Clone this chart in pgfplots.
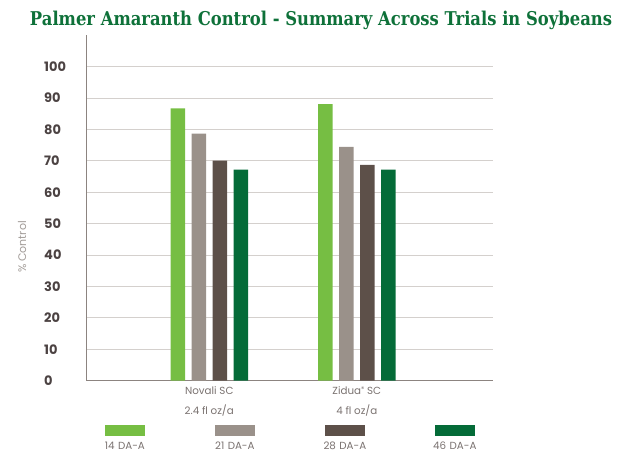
\documentclass[border=0pt]{standalone}
\usepackage{pgfplots}
\pgfplotsset{compat=1.18}
\usepackage{fontspec}
\setmainfont{Poppins}
\newfontfamily\titlefont{DejaVu Serif}
\definecolor{titlegreen}{HTML}{0E7139}
\definecolor{cA}{HTML}{76BE43}
\definecolor{cB}{HTML}{9A918A}
\definecolor{cC}{HTML}{5D5049}
\definecolor{cD}{HTML}{046B38}
\definecolor{tickcol}{HTML}{4B4242}
\definecolor{labcol}{HTML}{7A7270}
\definecolor{ylabcol}{HTML}{A29C98}
\definecolor{gridcol}{HTML}{D4D0CD}
\definecolor{axcol}{HTML}{8C8480}
\begin{document}
\begin{tikzpicture}
\path[use as bounding box] (0,0) rectangle (632pt,464pt);
\node[anchor=base, inner sep=0pt, text=titlegreen] at (321pt,438pt)
  {\resizebox{582pt}{\height}{\titlefont\bfseries\fontsize{19}{19}\selectfont Palmer Amaranth Control - Summary Across Trials in Soybeans}};
\begin{axis}[
  at={(86.7pt,83.3pt)}, anchor=south west,
  scale only axis, width=406.3pt, height=345.4pt,
  ybar=6.5pt, bar width=14.5pt,
  xmin=-0.831, xmax=1.923, ymin=0, ymax=110,
  axis lines*=left,
  axis line style={draw=axcol, line width=1pt, -},
  ytick={0,10,...,100}, xtick={0,1},
  xticklabels={{Novali SC\\2.4 fl oz/a},{Zidua{\raisebox{3pt}{\fontsize{6.5}{6.5}\selectfont ®}} SC\\4 fl oz/a}},
  major tick length=0pt,
  ymajorgrids, grid style={draw=gridcol, line width=1.1pt},
  /pgf/number format/assume math mode=true,
  yticklabel style={font=\fontsize{13}{13}\selectfont\bfseries, text=tickcol, anchor=west, inner sep=0pt, xshift=-42.7pt},
  xticklabel style={font=\fontsize{10.3}{20}\selectfont, text=labcol, align=center, anchor=north, inner sep=0pt, yshift=-5.5pt},
  ylabel={\% Control},
  ylabel style={at={(axis description cs:-0.159,0.387)}, anchor=center, font=\fontsize{11}{11}\selectfont, text=ylabcol},
  legend columns=4,
  legend style={at={(axis description cs:0.5,-0.128)}, anchor=north, draw=none, fill=none, inner sep=0pt,
    font=\fontsize{10.3}{13.8}\selectfont, text=labcol,
    nodes={align=center, text width=44pt, inner sep=0pt},
    /tikz/every even column/.append style={column sep=66pt}},
  every axis plot post/.append style={legend image code/.code={}},
]
\addplot[fill=cA, draw=none] coordinates {(0,86.7) (1,88.1)};
\addplot[fill=cB, draw=none] coordinates {(0,78.7) (1,74.5)};
\addplot[fill=cC, draw=none] coordinates {(0,70.1) (1,68.7)};
\addplot[fill=cD, draw=none] coordinates {(0,67.2) (1,67.2)};
\legend{{{\color{cA}\rule{40pt}{10.7pt}}\\14 DA-A},{{\color{cB}\rule{40pt}{10.7pt}}\\21 DA-A},{{\color{cC}\rule{40pt}{10.7pt}}\\28 DA-A},{{\color{cD}\rule{40pt}{10.7pt}}\\46 DA-A}}
\end{axis}
\end{tikzpicture}
\end{document}
